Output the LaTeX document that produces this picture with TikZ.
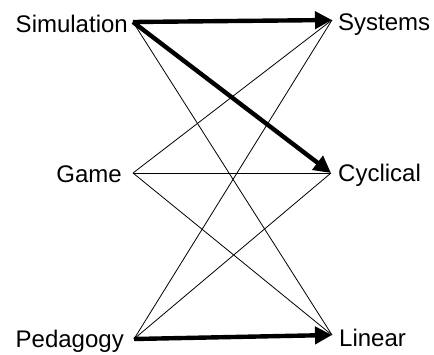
\documentclass[tikz,border=0pt]{standalone}
\usepackage{fontspec}
\setmainfont{Liberation Sans}
\usetikzlibrary{arrows.meta}
\begin{document}
\begin{tikzpicture}[x=1pt,y=-1pt,
  lbl/.style={font=\fontsize{24}{28}\selectfont, inner sep=0pt},
  thin/.style={line width=0.8pt},
  thick arrow/.style={line width=4.4pt, -{Triangle[length=17pt,width=17pt]}}]
\useasboundingbox (0,0) rectangle (434,354);
\coordinate (S) at (133,22);
\coordinate (G) at (133,173);
\coordinate (P) at (134,339);
\coordinate (Sy) at (332,20);
\coordinate (C) at (331,173);
\coordinate (L) at (332,335);
\node[lbl, anchor=base east] (tS) at (128,32) {Simulation};
\node[lbl, anchor=base east] (tG) at (122,182) {Game};
\node[lbl, anchor=base east] (tP) at (124,347.5) {Pedagogy};
\node[lbl, anchor=base west] (tSy) at (338,30) {Systems};
\node[lbl, anchor=base west] (tC) at (338,181) {Cyclical};
\node[lbl, anchor=base west] (tL) at (339,346.5) {Linear};
\draw[thin] (S) -- (L);
\draw[thin] (G) -- (Sy);
\draw[thin] (G) -- (C);
\draw[thin] (G) -- (L);
\draw[thin] (P) -- (Sy);
\draw[thin] (P) -- (C);
\draw[thick arrow] (S) -- (Sy);
\draw[thick arrow] (S) -- (C);
\draw[thick arrow] (P) -- (L);
\end{tikzpicture}
\end{document}
